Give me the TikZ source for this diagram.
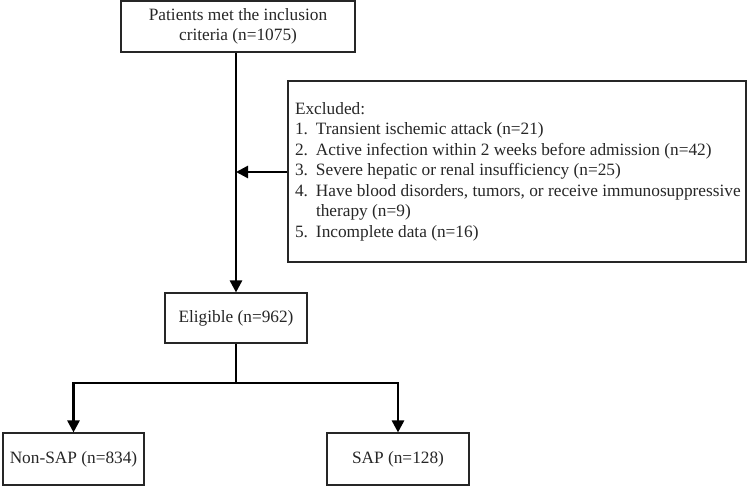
\documentclass[tikz,border=0pt]{standalone}
\usepackage{fontspec}
\setmainfont{Liberation Serif}
\usetikzlibrary{arrows.meta}
\begin{document}
\begin{tikzpicture}[x=1pt,y=-1pt,
  box/.style={draw=black!85, line width=1.1pt, inner sep=0pt, align=center,
    font=\fontsize{17.3}{19.5}\selectfont, text=black!85},
  flow/.style={line width=2.6pt, draw=black},
  arr/.style={flow, -{Triangle[length=12pt,width=12pt]}}]
\useasboundingbox (0,0) rectangle (749,487);
\node[box, minimum width=234pt, minimum height=51pt] (top) at (238,26.5)
  {Patients met the inclusion\\criteria (n=1075)};
\node[box, minimum width=458pt, minimum height=181pt, align=left] (ex) at (517,171.5)
  {\begin{minipage}{444pt}\fontsize{17.3}{20.5}\selectfont
   \begin{tabular}{@{}p{21pt}@{}l@{}}
   \multicolumn{2}{@{}l@{}}{Excluded:}\\
   1. & Transient ischemic attack (n=21)\\
   2. & Active infection within 2 weeks before admission (n=42)\\
   3. & Severe hepatic or renal insufficiency (n=25)\\
   4. & Have blood disorders, tumors, or receive immunosuppressive\\
      & therapy (n=9)\\
   5. & Incomplete data (n=16)
   \end{tabular}\end{minipage}};
\node[box, minimum width=142pt, minimum height=50pt] (elig) at (236,318) {Eligible (n=962)};
\node[box, minimum width=141pt, minimum height=52pt] (non) at (73.5,459) {Non-SAP (n=834)};
\node[box, minimum width=142pt, minimum height=52pt] (sap) at (398,459) {SAP (n=128)};
\coordinate (j) at (236,172);
\coordinate (b) at (236,383);
\draw[arr] (top.south -| elig.north) -- (elig.north);
\draw[arr] (ex.west |- j) -- (j);
\draw[flow] (elig.south) -- (b);
\draw[arr] (b) -| (non.north);
\draw[arr] (b) -| (sap.north);
\end{tikzpicture}
\end{document}
